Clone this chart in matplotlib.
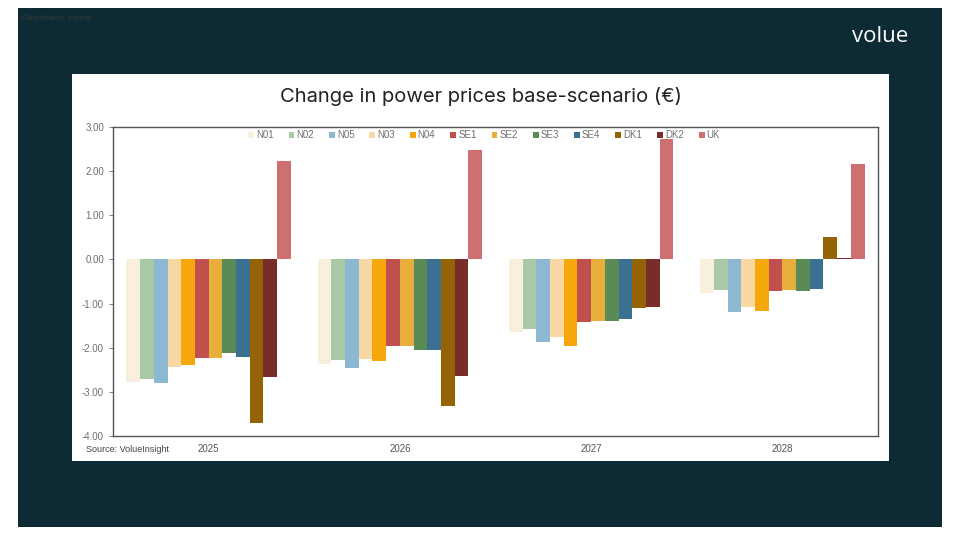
import numpy as np
import matplotlib
matplotlib.use("Agg")
import matplotlib.pyplot as plt
from matplotlib.patches import Rectangle

# data
years = ["2025", "2026", "2027", "2028"]
areas = ["N01", "N02", "N05", "N03", "N04", "SE1", "SE2", "SE3", "SE4", "DK1", "DK2", "UK"]
colors = ["#F8F0DC", "#A9C8A4", "#8CB8D2", "#F8D8A4", "#F5A70C", "#C0504D",
          "#E8AE3C", "#5A8A55", "#3C7091", "#946305", "#7A2C28", "#CE7070"]

N01 = [-2.77, -2.36, -1.64, -0.76]
N02 = [-2.70, -2.28, -1.58, -0.70]
N05 = [-2.79, -2.45, -1.86, -1.18]
N03 = [-2.44, -2.25, -1.76, -1.08]
N04 = [-2.39, -2.29, -1.95, -1.17]
SE1 = [-2.24, -1.95, -1.41, -0.72]
SE2 = [-2.24, -1.95, -1.40, -0.70]
SE3 = [-2.11, -2.05, -1.39, -0.72]
SE4 = [-2.20, -2.06, -1.35, -0.66]
DK1 = [-3.70, -3.31, -1.11, 0.51]
DK2 = [-2.67, -2.65, -1.07, 0.03]
UK = [2.22, 2.47, 2.73, 2.16]
series = [N01, N02, N05, N03, N04, SE1, SE2, SE3, SE4, DK1, DK2, UK]

BG = "#0C2B35"
GREY = "#6E6E6E"

fig = plt.figure(figsize=(9.6, 5.4), dpi=100)
fig.patch.set_facecolor("white")
fig.patches.append(Rectangle((18/960, 13/540), 924/960, 519/540, transform=fig.transFigure,
                             facecolor=BG, edgecolor="none", zorder=0))
fig.patches.append(Rectangle((72/960, 79/540), 817/960, 387/540, transform=fig.transFigure,
                             facecolor="white", edgecolor="none", zorder=1))

fig.text(22/960, 1-19/540, "Classification: Internal", fontsize=5, color="#3a3a3a",
         family="Liberation Sans", va="center")
fig.text(908/960, 1-36/540, "volue", fontsize=16, color="white", family="Open Sans",
         ha="right", va="center")
fig.text(481/960, 1-96/540, "Change in power prices base-scenario (€)", fontsize=14.5,
         color="#222222", family="Inter", ha="center", va="center")
fig.text(86/960, 1-449/540, "Source: VolueInsight", fontsize=6.5, color="#444444",
         family="Liberation Sans", va="center")

ax = fig.add_axes([113/960, 1-436/540, 765/960, 309/540])
ax.set_zorder(2)
ax.set_facecolor("white")

x = np.arange(len(years))
n = len(areas)
w = 0.86/n
for i in range(n):
    ax.bar(x - 0.43 + w*(i+0.5), series[i], width=w, color=colors[i], label=areas[i])

ax.set_xlim(-0.5, 3.5)
ax.set_ylim(-4, 3)
ax.set_yticks(np.arange(-4, 4, 1))
ax.set_yticklabels(["%.2f" % v for v in np.arange(-4, 4, 1)])
ax.set_xticks(x)
ax.set_xticklabels(years)
ax.tick_params(axis="x", length=0, pad=6, labelsize=7, labelcolor="#555555")
ax.tick_params(axis="y", length=3, labelsize=7, labelcolor=GREY, color="#888888")
for lab in ax.get_xticklabels() + ax.get_yticklabels():
    lab.set_family("Liberation Sans")
for s in ax.spines.values():
    s.set_color("#555555")
    s.set_linewidth(1.0)

leg = ax.legend(loc="upper center", bbox_to_anchor=(0.485, 1.018), ncol=n, frameon=False,
                handlelength=0.6, handleheight=0.6, handletextpad=0.2,
                columnspacing=1.55, prop={"family": "Liberation Sans", "size": 7})
for t in leg.get_texts():
    t.set_color(GREY)

fig.savefig("out.png", dpi=100, facecolor=fig.get_facecolor())
